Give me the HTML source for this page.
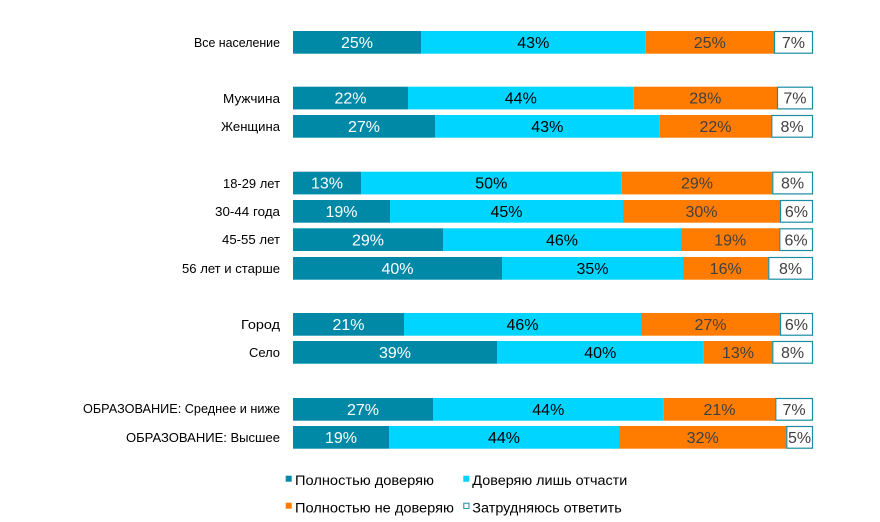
<!DOCTYPE html>
<html><head><meta charset="utf-8"><style>
html,body{margin:0;padding:0;background:#fff;}
svg{display:block;}
text{font-family:"Liberation Sans",Arial,sans-serif;}
</style></head><body>
<svg width="880" height="522" viewBox="0 0 880 522" xmlns="http://www.w3.org/2000/svg">
<rect width="880" height="522" fill="#fff"/>
<g font-size="12.5" fill="#000" text-anchor="end">
<text x="280" y="47" textLength="86" lengthAdjust="spacingAndGlyphs">Все население</text>
<text x="280" y="103" textLength="57" lengthAdjust="spacingAndGlyphs">Мужчина</text>
<text x="280" y="131" textLength="59" lengthAdjust="spacingAndGlyphs">Женщина</text>
<text x="280" y="188" textLength="57" lengthAdjust="spacingAndGlyphs">18-29 лет</text>
<text x="280" y="216" textLength="65" lengthAdjust="spacingAndGlyphs">30-44 года</text>
<text x="280" y="244" textLength="58" lengthAdjust="spacingAndGlyphs">45-55 лет</text>
<text x="280" y="273" textLength="98" lengthAdjust="spacingAndGlyphs">56 лет и старше</text>
<text x="280" y="329" textLength="39" lengthAdjust="spacingAndGlyphs">Город</text>
<text x="280" y="357" textLength="31" lengthAdjust="spacingAndGlyphs">Село</text>
<text x="280" y="413" textLength="197" lengthAdjust="spacingAndGlyphs">ОБРАЗОВАНИЕ: Среднее и ниже</text>
<text x="280" y="442" textLength="154" lengthAdjust="spacingAndGlyphs">ОБРАЗОВАНИЕ: Высшее</text>
</g>
<g id="bars" font-size="16" text-anchor="middle">
<!-- row template: top, a,b,c ends -->
<!-- Row 0 -->
<rect x="293" y="31" width="128" height="22.7" fill="#0089A7"/>
<rect x="421" y="31" width="224.7" height="22.7" fill="#00D5FF"/>
<rect x="645.7" y="31" width="128.3" height="22.7" fill="#FF7C00"/>
<rect x="774.5" y="31.5" width="38" height="21.7" fill="#fff" stroke="#1A8CA2" stroke-width="1.2"/>
<text x="357" y="48" fill="#fff">25%</text><text x="533.3" y="48" fill="#000">43%</text><text x="709.8" y="48" fill="#404040">25%</text><text x="793.4" y="48" fill="#404040">7%</text>
<!-- Row 2 -->
<rect x="293" y="86.7" width="115" height="22.7" fill="#0089A7"/>
<rect x="408" y="86.7" width="225.7" height="22.7" fill="#00D5FF"/>
<rect x="633.7" y="86.7" width="143.3" height="22.7" fill="#FF7C00"/>
<rect x="777.5" y="87.2" width="35" height="21.7" fill="#fff" stroke="#1A8CA2" stroke-width="1.2"/>
<text x="350.5" y="103.7" fill="#fff">22%</text><text x="520.8" y="103.7" fill="#000">44%</text><text x="705.3" y="103.7" fill="#404040">28%</text><text x="794.9" y="103.7" fill="#404040">7%</text>
<!-- Row 3 -->
<rect x="293" y="115" width="142" height="22.7" fill="#0089A7"/>
<rect x="435" y="115" width="224.7" height="22.7" fill="#00D5FF"/>
<rect x="659.7" y="115" width="111.6" height="22.7" fill="#FF7C00"/>
<rect x="771.8" y="115.5" width="40.7" height="21.7" fill="#fff" stroke="#1A8CA2" stroke-width="1.2"/>
<text x="364" y="132" fill="#fff">27%</text><text x="547.3" y="132" fill="#000">43%</text><text x="715.5" y="132" fill="#404040">22%</text><text x="792" y="132" fill="#404040">8%</text>
<!-- Row 5 -->
<rect x="293" y="171.7" width="68" height="22.7" fill="#0089A7"/>
<rect x="361" y="171.7" width="260.7" height="22.7" fill="#00D5FF"/>
<rect x="621.7" y="171.7" width="150.6" height="22.7" fill="#FF7C00"/>
<rect x="772.8" y="172.2" width="39.7" height="21.7" fill="#fff" stroke="#1A8CA2" stroke-width="1.2"/>
<text x="327" y="188.7" fill="#fff">13%</text><text x="491.3" y="188.7" fill="#000">50%</text><text x="697" y="188.7" fill="#404040">29%</text><text x="792.5" y="188.7" fill="#404040">8%</text>
<!-- Row 6 -->
<rect x="293" y="200" width="97" height="22.7" fill="#0089A7"/>
<rect x="390" y="200" width="233" height="22.7" fill="#00D5FF"/>
<rect x="623" y="200" width="157" height="22.7" fill="#FF7C00"/>
<rect x="780.5" y="200.5" width="32" height="21.7" fill="#fff" stroke="#1A8CA2" stroke-width="1.2"/>
<text x="341.5" y="217" fill="#fff">19%</text><text x="506.5" y="217" fill="#000">45%</text><text x="701.5" y="217" fill="#404040">30%</text><text x="796.4" y="217" fill="#404040">6%</text>
<!-- Row 7 -->
<rect x="293" y="228.3" width="150" height="22.7" fill="#0089A7"/>
<rect x="443" y="228.3" width="238" height="22.7" fill="#00D5FF"/>
<rect x="681" y="228.3" width="98.3" height="22.7" fill="#FF7C00"/>
<rect x="779.8" y="228.8" width="32.7" height="21.7" fill="#fff" stroke="#1A8CA2" stroke-width="1.2"/>
<text x="368" y="245.3" fill="#fff">29%</text><text x="562" y="245.3" fill="#000">46%</text><text x="730.2" y="245.3" fill="#404040">19%</text><text x="796" y="245.3" fill="#404040">6%</text>
<!-- Row 8 -->
<rect x="293" y="257" width="209" height="22.7" fill="#0089A7"/>
<rect x="502" y="257" width="181" height="22.7" fill="#00D5FF"/>
<rect x="683" y="257" width="85.3" height="22.7" fill="#FF7C00"/>
<rect x="768.8" y="257.5" width="43.7" height="21.7" fill="#fff" stroke="#1A8CA2" stroke-width="1.2"/>
<text x="397.5" y="274" fill="#fff">40%</text><text x="592.5" y="274" fill="#000">35%</text><text x="725.7" y="274" fill="#404040">16%</text><text x="790.5" y="274" fill="#404040">8%</text>
<!-- Row 10 -->
<rect x="293" y="313" width="111" height="22.7" fill="#0089A7"/>
<rect x="404" y="313" width="237" height="22.7" fill="#00D5FF"/>
<rect x="641" y="313" width="139" height="22.7" fill="#FF7C00"/>
<rect x="780.5" y="313.5" width="32" height="21.7" fill="#fff" stroke="#1A8CA2" stroke-width="1.2"/>
<text x="348.5" y="330" fill="#fff">21%</text><text x="522.5" y="330" fill="#000">46%</text><text x="710.5" y="330" fill="#404040">27%</text><text x="796.4" y="330" fill="#404040">6%</text>
<!-- Row 11 -->
<rect x="293" y="341" width="204" height="22.7" fill="#0089A7"/>
<rect x="497" y="341" width="206.7" height="22.7" fill="#00D5FF"/>
<rect x="703.7" y="341" width="68.6" height="22.7" fill="#FF7C00"/>
<rect x="772.8" y="341.5" width="39.7" height="21.7" fill="#fff" stroke="#1A8CA2" stroke-width="1.2"/>
<text x="395" y="358" fill="#fff">39%</text><text x="600.3" y="358" fill="#000">40%</text><text x="738" y="358" fill="#404040">13%</text><text x="792.5" y="358" fill="#404040">8%</text>
<!-- Row 13 -->
<rect x="293" y="398" width="140" height="22.7" fill="#0089A7"/>
<rect x="433" y="398" width="230.7" height="22.7" fill="#00D5FF"/>
<rect x="663.7" y="398" width="111.6" height="22.7" fill="#FF7C00"/>
<rect x="775.8" y="398.5" width="36.7" height="21.7" fill="#fff" stroke="#1A8CA2" stroke-width="1.2"/>
<text x="363" y="415" fill="#fff">27%</text><text x="548.3" y="415" fill="#000">44%</text><text x="719.5" y="415" fill="#404040">21%</text><text x="794" y="415" fill="#404040">7%</text>
<!-- Row 14 -->
<rect x="293" y="426" width="96" height="22.7" fill="#0089A7"/>
<rect x="389" y="426" width="230" height="22.7" fill="#00D5FF"/>
<rect x="619" y="426" width="167.3" height="22.7" fill="#FF7C00"/>
<rect x="786.8" y="426.5" width="25.7" height="21.7" fill="#fff" stroke="#1A8CA2" stroke-width="1.2"/>
<text x="341" y="443" fill="#fff">19%</text><text x="504" y="443" fill="#000">44%</text><text x="702.7" y="443" fill="#404040">32%</text><text x="799.5" y="443" fill="#404040">5%</text>
</g>
<g font-size="13.5" fill="#000">
<rect x="285.7" y="475.7" width="6" height="6" fill="#0089A7"/>
<text x="295" y="485" textLength="139" lengthAdjust="spacingAndGlyphs">Полностью доверяю</text>
<rect x="463.3" y="475.7" width="6" height="6" fill="#00D5FF"/>
<text x="472.3" y="485" textLength="155" lengthAdjust="spacingAndGlyphs">Доверяю лишь отчасти</text>
<rect x="285.7" y="502.7" width="6" height="6" fill="#FF7C00"/>
<text x="295" y="512.5" textLength="159" lengthAdjust="spacingAndGlyphs">Полностью не доверяю</text>
<rect x="463.8" y="503.2" width="5.2" height="5.2" fill="#fff" stroke="#1A8CA2" stroke-width="1"/>
<text x="472.3" y="512.5" textLength="149.5" lengthAdjust="spacingAndGlyphs">Затрудняюсь ответить</text>
</g>
</svg>
</body></html>
